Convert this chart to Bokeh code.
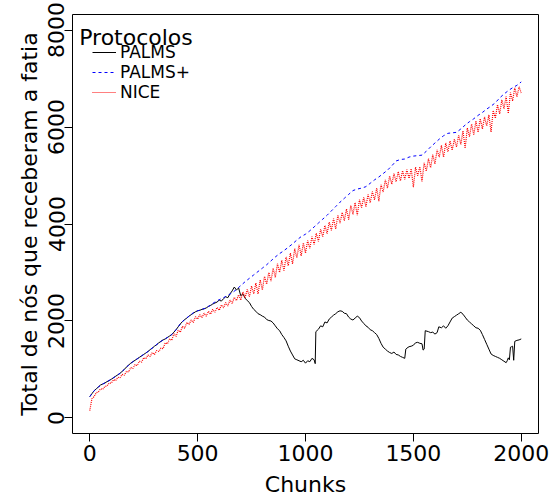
from bokeh.plotting import figure
from bokeh.models import Range1d, FixedTicker, Legend, LegendItem, Label
from bokeh.embed import file_html
from bokeh.resources import INLINE

# ---------------- data ----------------
x_ticks = [0, 500, 1000, 1500, 2000]
y_ticks = [0, 2000, 4000, 6000, 8000]
series_names = ["PALMS", "PALMS+", "NICE"]

palms_chunks = [
    0, 10, 20, 30, 40, 50, 60, 70, 80, 90,
    100, 110, 120, 130, 140, 150, 160, 170, 180, 190,
    200, 210, 220, 230, 240, 250, 260, 270, 280, 290,
    300, 310, 320, 330, 340, 350, 360, 370, 380, 390,
    400, 410, 420, 430, 440, 450, 460, 470, 480, 490,
    500, 510, 520, 530, 540, 550, 560, 570, 580, 590,
    600, 610, 620, 630, 640, 650, 660, 670, 680, 690,
    700, 710, 720, 730, 740, 750, 760, 770, 780, 790,
    800, 810, 820, 830, 840, 850, 860, 870, 880, 890,
    900, 910, 920, 930, 940, 950, 960, 970, 980, 990,
    1000, 1010, 1020, 1030, 1040, 1045, 1048, 1060, 1070, 1080, 1090,
    1100, 1110, 1120, 1130, 1140, 1150, 1160, 1170, 1180, 1190,
    1200, 1210, 1220, 1230, 1240, 1250, 1260, 1270, 1280, 1290,
    1300, 1310, 1320, 1330, 1340, 1350, 1360, 1370, 1380, 1390,
    1400, 1410, 1420, 1430, 1440, 1450, 1460, 1465, 1470, 1480, 1490,
    1500, 1510, 1520, 1530, 1540, 1545, 1550, 1555, 1570, 1580, 1590,
    1600, 1610, 1618, 1630, 1640, 1650, 1660, 1670, 1680, 1690,
    1700, 1710, 1720, 1730, 1740, 1750, 1760, 1770, 1780, 1790,
    1800, 1810, 1820, 1830, 1840, 1850, 1860, 1870, 1880, 1890,
    1900, 1910, 1920, 1930, 1935, 1940, 1945, 1950, 1955, 1960, 1965, 1970, 1980, 1990,
    2000,
]
palms_values = [
    440, 500, 560, 600, 640, 680, 700, 720, 750, 770,
    800, 830, 860, 890, 920, 960, 1000, 1050, 1090, 1130,
    1160, 1190, 1220, 1250, 1280, 1310, 1340, 1370, 1410, 1440,
    1480, 1510, 1550, 1580, 1610, 1630, 1660, 1690, 1720, 1770,
    1820, 1880, 1940, 1990, 2030, 2060, 2100, 2130, 2160, 2190,
    2210, 2220, 2240, 2250, 2270, 2300, 2320, 2350, 2370, 2390,
    2430, 2410, 2460, 2500, 2480, 2560, 2620, 2700, 2640, 2680,
    2520, 2560, 2470, 2420, 2380, 2300, 2240, 2200, 2150, 2130,
    2100, 2080, 2030, 2010, 2000, 1960, 1900, 1840, 1800, 1720,
    1660, 1590, 1480, 1380, 1300, 1220, 1200, 1180, 1160, 1190,
    1130, 1180, 1160, 1230, 1200, 1120, 1780, 1830, 1900, 1880, 1980,
    1960, 2040, 2080, 2120, 2150, 2190, 2210, 2200, 2160, 2150,
    2080, 2040, 2020, 2060, 2100, 2070, 2000, 1950, 1900, 1870,
    1820, 1800, 1760, 1720, 1640, 1540, 1460, 1420, 1380, 1350,
    1330, 1360, 1310, 1300, 1270, 1250, 1230, 1420, 1440, 1470, 1480,
    1500, 1550, 1560, 1540, 1530, 1400, 1420, 1800, 1780, 1760, 1770,
    1730, 1760, 1880, 1860, 1900, 1850, 1900, 1980, 2060, 2090,
    2120, 2150, 2180, 2140, 2080, 2020, 1980, 1940, 1900, 1860,
    1850, 1810, 1720, 1620, 1520, 1420, 1320, 1290, 1270, 1250,
    1230, 1200, 1170, 1140, 1180, 1240, 1200, 1460, 1470, 1480, 1190, 1580, 1600, 1610,
    1630,
]

palmsplus_chunks = list(range(0, 2001, 20))
palmsplus_values = [
    440, 560, 640, 700, 750, 800, 860, 920, 1000, 1090,
    1160, 1220, 1280, 1340, 1410, 1480, 1550, 1610, 1660, 1720,
    1820, 1940, 2030, 2100, 2170, 2210, 2240, 2270, 2330, 2390,
    2440, 2480, 2530, 2580, 2650, 2730, 2810, 2880, 2950, 3020,
    3090, 3160, 3240, 3320, 3390, 3450, 3520, 3590, 3670, 3740,
    3790, 3860, 3940, 4020, 4100, 4180, 4270, 4360, 4450, 4530,
    4610, 4690, 4720, 4740, 4770, 4840, 4910, 4970, 5040, 5110,
    5200, 5300, 5330, 5340, 5380, 5400, 5410, 5420, 5500, 5590,
    5670, 5750, 5820, 5870, 5880, 5890, 5960, 6040, 6110, 6170,
    6240, 6300, 6370, 6430, 6500, 6600, 6680, 6750, 6810, 6860,
    6930,
]

nice_chunks = list(range(0, 2001, 10))
nice_values = [
    150, 400, 440, 520, 540, 600, 590, 650, 660, 720,
    720, 790, 770, 840, 830, 900, 880, 960, 950, 1040,
    1020, 1100, 1080, 1170, 1150, 1240, 1220, 1300, 1270, 1350,
    1310, 1390, 1370, 1440, 1430, 1550, 1530, 1630, 1600, 1740,
    1680, 1810, 1770, 1890, 1850, 1970, 1930, 2020, 1970, 2090,
    2040, 2130, 2070, 2160, 2100, 2200, 2140, 2240, 2180, 2280,
    2220, 2330, 2270, 2380, 2310, 2430, 2360, 2490, 2420, 2540,
    2430, 2600, 2480, 2650, 2500, 2720, 2560, 2780, 2560, 2850,
    2640, 2920, 2760, 3000, 2820, 3090, 2900, 3180, 3000, 3250,
    3040, 3320, 3140, 3400, 3180, 3490, 3300, 3570, 3340, 3610,
    3400, 3660, 3500, 3740, 3580, 3810, 3640, 3890, 3740, 3970,
    3800, 4040, 3870, 4110, 3900, 4180, 4020, 4240, 4070, 4310,
    4090, 4380, 4200, 4440, 4180, 4500, 4340, 4550, 4360, 4610,
    4440, 4670, 4500, 4740, 4470, 4810, 4660, 4910, 4740, 4990,
    4820, 5040, 4870, 5080, 4890, 5100, 4920, 5120, 4940, 5140,
    4760, 5170, 5000, 5180, 4880, 5260, 5090, 5350, 5160, 5430,
    5240, 5530, 5380, 5620, 5380, 5670, 5490, 5710, 5520, 5750,
    5590, 5830, 5640, 5920, 5560, 5980, 5800, 6060, 5840, 6120,
    5890, 6170, 5960, 6210, 6020, 6250, 5900, 6340, 6180, 6460,
    6270, 6560, 6380, 6630, 6280, 6710, 6540, 6810, 6620, 6830,
    6700,
]

# ---------------- figure ----------------
FONT = "DejaVu Sans"

p = figure(width=549, height=499, output_backend="svg", toolbar_location=None,
           x_range=Range1d(-80, 2080), y_range=Range1d(-320, 8320),
           min_border_left=72, min_border_right=11,
           min_border_top=14, min_border_bottom=64)
p.background_fill_color = "white"
p.border_fill_color = "white"
p.outline_line_color = "black"
p.outline_line_width = 1
p.outline_line_alpha = 1.0
p.xgrid.visible = False
p.ygrid.visible = False

for ax in (p.xaxis[0], p.yaxis[0]):
    ax.axis_line_color = None
    ax.major_tick_line_color = "black"
    ax.major_tick_out = 8
    ax.major_tick_in = 0
    ax.minor_tick_out = 0
    ax.minor_tick_in = 0
    ax.major_label_text_font = FONT
    ax.major_label_text_font_size = "22px"
    ax.major_label_text_color = "black"
    ax.axis_label_text_font = FONT
    ax.axis_label_text_font_size = "22px"
    ax.axis_label_text_font_style = "normal"
    ax.axis_label_text_color = "black"

p.xaxis.ticker = FixedTicker(ticks=x_ticks)
p.yaxis.ticker = FixedTicker(ticks=y_ticks)
p.xaxis.axis_label = "Chunks"
p.yaxis.axis_label = "Total de nós que receberam a fatia"
p.xaxis.major_label_standoff = 3
p.xaxis.axis_label_standoff = 8
p.yaxis.major_label_orientation = "vertical"
p.yaxis.major_label_standoff = 0
p.yaxis.axis_label_standoff = 4

r_palms = p.line(palms_chunks, palms_values, line_color="black", line_width=1)
r_plus = p.line(palmsplus_chunks, palmsplus_values, line_color="blue",
                line_width=1, line_dash="3 3")
r_nice = p.line(nice_chunks, nice_values, line_color="red", line_width=1.2,
                line_dash="1 1")

legend = Legend(items=[
    LegendItem(label=series_names[0], renderers=[r_palms]),
    LegendItem(label=series_names[1], renderers=[r_plus]),
    LegendItem(label=series_names[2], renderers=[r_nice]),
], location=(20, 331))
legend.border_line_color = None
legend.background_fill_alpha = 0
legend.padding = 0
legend.margin = 0
legend.spacing = 0
legend.glyph_width = 24
legend.glyph_height = 16
legend.label_height = 16
legend.label_standoff = 4
legend.label_text_font = FONT
legend.label_text_font_size = "17px"
legend.label_text_color = "black"
p.add_layout(legend, "center")

title = Label(x=-49, y=7853, text="Protocolos", text_font=FONT,
              text_font_size="22px", text_color="black",
              text_align="left", text_baseline="alphabetic")
p.add_layout(title)

open("out.html", "w").write(file_html(p, INLINE))
